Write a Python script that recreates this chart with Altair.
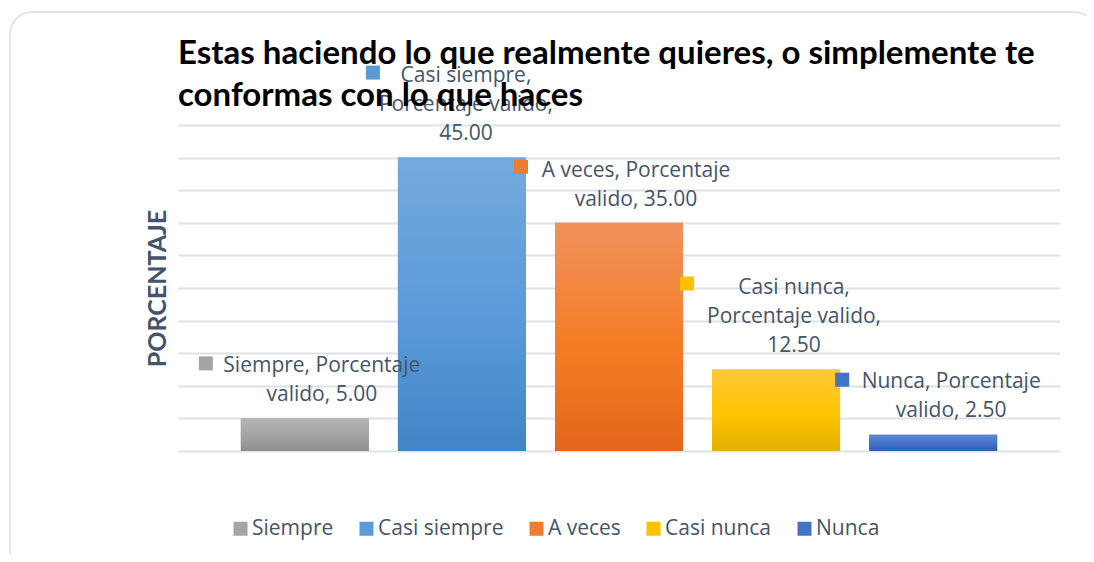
import altair as alt
import pandas as pd

categories = ["Siempre", "Casi siempre", "A veces", "Casi nunca", "Nunca"]
values = [5.00, 45.00, 35.00, 12.50, 2.50]
label_texts = [
    "Siempre, Porcentaje\nvalido, 5.00",
    "Casi siempre,\nPorcentaje valido,\n45.00",
    "A veces, Porcentaje\nvalido, 35.00",
    "Casi nunca,\nPorcentaje valido,\n12.50",
    "Nunca, Porcentaje\nvalido, 2.50",
]
y_ticks = [0, 5, 10, 15, 20, 25, 30, 35, 40, 45, 50]
title_lines = ["Estas haciendo lo que realmente quieres, o simplemente te",
               "conformas con lo que haces"]

# styles
solid = ["#a5a5a5", "#5b9bd5", "#ed7d31", "#ffc000", "#4472c4"]
grad_stops = [
    ("#b4b4b4", "#a3a3a3", "#8e8e8e"),
    ("#74a9dd", "#5a9ad8", "#4185c7"),
    ("#f1915c", "#f47c22", "#e3661b"),
    ("#ffc93a", "#ffc300", "#e2b000"),
    ("#5d88d2", "#4272c8", "#2e5ebd"),
]
text_dx = [17, 4, 17, 18, 18]
text_dy = [-63, -93, -63, -93, -64]
sq_dx = [-99, -89, -98, -89, -91]
sq_dy = [-55, -85, -56, -86, -55]

df = pd.DataFrame({"cat": categories, "val": values, "label": label_texts})

FONT = "Open Sans"
TITLE_FONT = "Lato"
LABEL_COLOR = "#44546a"

xenc = alt.X("cat:N", sort=categories, axis=None,
             scale=alt.Scale(domain=categories, paddingInner=0.185, paddingOuter=0.4))
yenc = alt.Y("val:Q",
             scale=alt.Scale(domain=[0, 50], nice=False),
             axis=alt.Axis(values=y_ticks, grid=True, labels=False, ticks=False, domain=False,
                           gridColor="#dde1e8", gridWidth=1.8,
                           title="PORCENTAJE", titleFont=TITLE_FONT, titleFontSize=25,
                           titleFontWeight="bold", titleColor=LABEL_COLOR,
                           titleAngle=270, titleX=-21, titleY=163,
                           titleAlign="center", titleBaseline="middle"))

border = alt.Chart(alt.Data(values=[{"a": 1}])).mark_rect(
    fillOpacity=0, stroke="#d9dde3", strokeWidth=1.5, cornerRadius=22
).encode(x=alt.value(-168), x2=alt.value(918), y=alt.value(-113), y2=alt.value(447))

base = alt.Chart(df).mark_bar().encode(
    x=xenc, y=yenc,
    color=alt.Color("cat:N", sort=categories,
                    scale=alt.Scale(domain=categories, range=solid),
                    legend=alt.Legend(title=None, orient="none", direction="horizontal",
                                      legendX=52, legendY=393,
                                      symbolType="square", symbolSize=196,
                                      symbolStrokeWidth=0, labelFont=FONT,
                                      labelFontSize=21, labelColor=LABEL_COLOR,
                                      labelOffset=1, columnPadding=22,
                                      labelLimit=300))
)

bar_layers = []
text_layers = []
for i, c in enumerate(categories):
    g = grad_stops[i]
    grad = alt.LinearGradient(
        gradient="linear", x1=0, x2=0, y1=0, y2=1,
        stops=[alt.GradientStop(color=g[0], offset=0),
               alt.GradientStop(color=g[1], offset=0.55),
               alt.GradientStop(color=g[2], offset=1)])
    sub = alt.Chart(df).transform_filter(alt.datum.cat == c)
    bar_layers.append(sub.mark_bar(color=grad).encode(x=xenc, y=yenc))
    text_layers.append(sub.mark_text(font=FONT, fontSize=21, color=LABEL_COLOR,
                                     lineBreak="\n", lineHeight=29, align="center",
                                     baseline="top", dx=text_dx[i], dy=text_dy[i])
                       .encode(x=xenc, y=yenc, text="label:N"))
    text_layers.append(sub.mark_square(size=196, color=solid[i], opacity=1,
                                       xOffset=sq_dx[i], yOffset=sq_dy[i])
                       .encode(x=xenc, y=yenc))

chart = alt.layer(border, base, *bar_layers, *text_layers).properties(
    width=882, height=326,
    padding={"left": 170, "top": 117, "right": 26, "bottom": 103},
    autosize=alt.AutoSizeParams(type="none"),
    title=alt.TitleParams(text=title_lines, anchor="start", frame="group",
                          font=TITLE_FONT, fontSize=33, fontWeight="bold", color="black",
                          lineHeight=42, offset=0, dy=102),
).configure_view(stroke=None)

chart.save("out.html", embed_options={"renderer": "svg", "actions": False})
